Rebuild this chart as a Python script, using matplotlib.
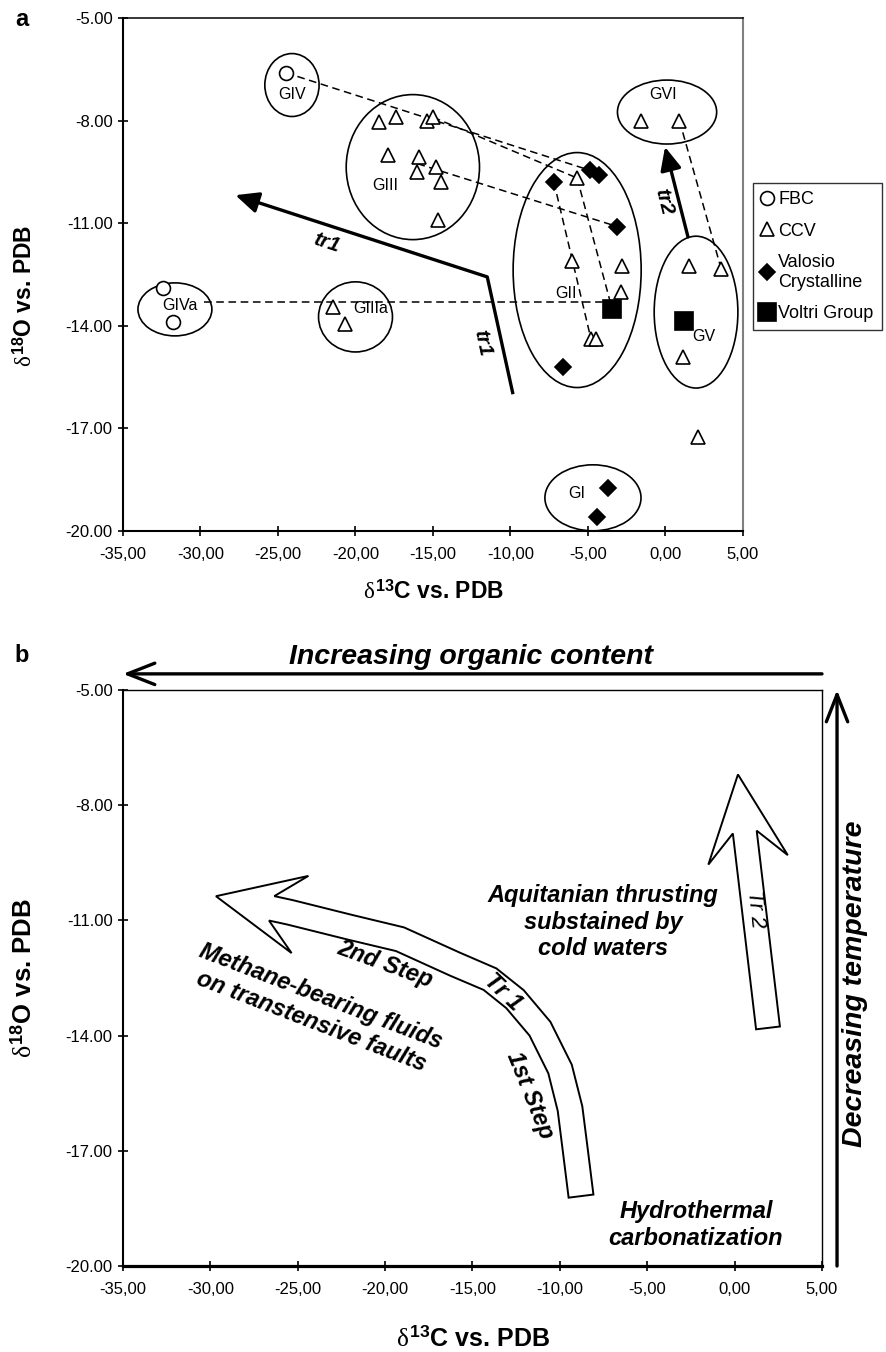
import numpy as np
import matplotlib
matplotlib.use("Agg")
import matplotlib.pyplot as plt
from matplotlib.patches import Ellipse, Polygon
from matplotlib.lines import Line2D

plt.rcParams["font.family"] = ["Liberation Sans", "DejaVu Sans"]
plt.rcParams["axes.unicode_minus"] = False
plt.rcParams["mathtext.fontset"] = "custom"
plt.rcParams["mathtext.rm"] = "Liberation Sans:bold"
plt.rcParams["mathtext.it"] = "Liberation Serif"
plt.rcParams["mathtext.bf"] = "Liberation Sans:bold"

# ---- data (panel a) ----
fbc_x = [-24.5, -32.4, -31.8]
fbc_y = [-6.6, -12.9, -13.9]

ccv_x = [-18.5, -17.4, -15.4, -15.0, -17.9, -15.9, -16.0, -14.8, -14.5, -14.7,
         -21.45, -20.7, -5.7, -6.0, -2.8, -2.9, -4.8, -4.5, -1.6, 0.9,
         1.5, 3.6, 1.1, 2.1]
ccv_y = [-8.04, -7.9, -8.0, -7.9, -9.0, -9.06, -9.5, -9.35, -9.8, -10.9,
         -13.45, -13.95, -9.68, -12.1, -12.25, -13.0, -14.4, -14.4, -8.0, -8.0,
         -12.25, -12.35, -14.9, -17.25]

val_x = [-7.2, -4.9, -4.3, -3.1, -6.6, -3.7, -4.4]
val_y = [-9.8, -9.45, -9.6, -11.1, -15.2, -18.75, -19.6]

vol_x = [-3.45, 1.2]
vol_y = [-13.5, -13.85]

group_names = ["GI", "GII", "GIII", "GIIIa", "GIV", "GIVa", "GV", "GVI"]
group_cx = [-4.68, -5.7, -16.3, -20.0, -24.1, -31.65, 1.97, 0.1]
group_cy = [-19.03, -12.37, -9.36, -13.74, -6.96, -13.52, -13.6, -7.75]
group_w = [6.2, 8.26, 8.6, 4.77, 3.5, 4.77, 5.4, 6.4]
group_h = [1.93, 6.87, 4.24, 2.05, 1.84, 1.55, 4.44, 1.87]
group_lx = [-5.7, -6.4, -18.1, -19.0, -24.1, -31.3, 2.5, -0.16]
group_ly = [-18.9, -13.05, -9.9, -13.5, -7.25, -13.4, -14.3, -7.25]

link_x = [[-24.5, -4.9], [-15.0, -5.7], [-16.0, -3.1], [-7.2, -4.8],
          [-5.7, -3.45], [0.9, 3.6], [-29.8, -3.45]]
link_y = [[-6.6, -9.45], [-7.9, -9.68], [-9.26, -11.1], [-9.8, -14.4],
          [-9.68, -13.5], [-8.0, -12.35], [-13.3, -13.3]]

tr1_x = [-9.84, -11.5, -27.75]
tr1_y = [-16.0, -12.57, -10.18]
tr2_x = [1.45, -0.03]
tr2_y = [-11.4, -8.77]

# ---- data (panel b) ----
tr1b_x = [-8.79, -9.13, -9.42, -9.99, -11.14, -12.57, -14.0, -16.0, -19.15,
          -22.0, -25.44, -29.68]
tr1b_y = [-18.18, -16.94, -15.90, -14.87, -13.82, -13.05, -12.53, -12.14,
          -11.49, -11.18, -10.79, -10.37]
tr2b_x = [1.91, 0.19]
tr2b_y = [-13.8, -7.2]

x_ticks = [-35, -30, -25, -20, -15, -10, -5, 0, 5]
y_ticks = [-5, -8, -11, -14, -17, -20]


def style_axes(ax, lw_left, lw_bottom, lw_top, lw_right, right_color):
    ax.set_xlim(-35, 5)
    ax.set_ylim(-20, -5)
    ax.set_xticks(x_ticks)
    ax.set_yticks(y_ticks)
    ax.set_xticklabels([f"{v:.2f}".replace(".", ",") for v in x_ticks])
    ax.set_yticklabels([f"{v:.2f}" for v in y_ticks])
    ax.tick_params(direction="inout", length=7, width=1.2, labelsize=12)
    ax.tick_params(axis="x", pad=8)
    ax.tick_params(axis="y", pad=4)
    ax.spines["left"].set_linewidth(lw_left)
    ax.spines["bottom"].set_linewidth(lw_bottom)
    ax.spines["top"].set_linewidth(lw_top)
    ax.spines["right"].set_linewidth(lw_right)
    ax.spines["right"].set_color(right_color)


def hollow_arrow(ax, xs, ys, width, head_len, head_w, overhang):
    # build the outline in pixel units so the shape is not distorted
    bb = ax.get_window_extent()
    sx = bb.width / 40.0
    sy = bb.height / 15.0
    P = np.column_stack([np.asarray(xs) * sx, np.asarray(ys) * sy])
    tip = P[-1]
    d = tip - P[-2]
    d = d / np.hypot(*d)
    base = tip - d * head_len
    shaft = np.vstack([P[:-1], base])
    seg = np.diff(shaft, axis=0)
    seg = seg / np.hypot(seg[:, 0], seg[:, 1])[:, None]
    nseg = np.column_stack([-seg[:, 1], seg[:, 0]])
    nrm = np.empty_like(shaft)
    nrm[0] = nseg[0]
    nrm[-1] = nseg[-1]
    mid = nseg[:-1] + nseg[1:]
    nrm[1:-1] = mid / np.hypot(mid[:, 0], mid[:, 1])[:, None]
    left = shaft + nrm * width / 2
    right = shaft - nrm * width / 2
    n_end = np.array([-d[1], d[0]])
    back = base - d * overhang
    poly = np.vstack([right, [back - n_end * head_w / 2], [tip],
                      [back + n_end * head_w / 2], left[::-1]])
    poly = poly / [sx, sy]
    ax.add_patch(Polygon(poly, closed=True, facecolor="white",
                         edgecolor="black", lw=1.4, zorder=3))


fig = plt.figure(figsize=(8.87, 13.52), dpi=100)
axa = fig.add_axes([123 / 887, 1 - 531 / 1352, 620 / 887, 513 / 1352])
axb = fig.add_axes([123 / 887, 1 - 1266 / 1352, 699 / 887, 576 / 1352])

# ---------------- panel a ----------------
style_axes(axa, 1.5, 1.5, 1.1, 1.5, "#7f7f7f")

for cx, cy, w, h in zip(group_cx, group_cy, group_w, group_h):
    axa.add_patch(Ellipse((cx, cy), w, h, fill=False, ec="black", lw=1.2, zorder=2))
for name, lx, ly in zip(group_names, group_lx, group_ly):
    axa.text(lx, ly, name, fontsize=11.5, ha="center", va="center", zorder=5)

for lx, ly in zip(link_x, link_y):
    axa.plot(lx, ly, ls=(0, (5, 3)), color="black", lw=1.1, zorder=3)

mk = dict(ls="none", mec="black", mew=1.2, zorder=4)
axa.plot(fbc_x, fbc_y, marker="o", ms=10, mfc="white", **mk)
axa.plot(ccv_x, ccv_y, marker="^", ms=10, mfc="white", **mk)
axa.plot(val_x, val_y, marker="D", ms=8, mfc="black", **mk)
axa.plot(vol_x, vol_y, marker="s", ms=13, mfc="black", **mk)

axa.plot(tr1_x[:2], tr1_y[:2], color="black", lw=2.4, solid_capstyle="butt",
         solid_joinstyle="miter", zorder=3)
axa.annotate("", xy=(tr1_x[2], tr1_y[2]), xytext=(tr1_x[1], tr1_y[1]),
             arrowprops=dict(arrowstyle="-|>,head_length=0.7,head_width=0.32",
                             mutation_scale=20, lw=2.4, color="black",
                             shrinkA=0, shrinkB=0), zorder=3)
axa.annotate("", xy=(tr2_x[1], tr2_y[1]), xytext=(tr2_x[0], tr2_y[0]),
             arrowprops=dict(arrowstyle="-|>,head_length=0.7,head_width=0.32",
                             mutation_scale=20, lw=2.4, color="black",
                             shrinkA=0, shrinkB=0), zorder=3)
tkw = dict(fontsize=15, fontweight="bold", style="italic", ha="center",
           va="center", rotation_mode="anchor")
axa.text(-21.84, -11.58, "tr1", rotation=-18, **tkw)
axa.text(-11.84, -14.5, "tr1", rotation=-78, **tkw)
axa.text(-0.10, -10.38, "tr2", rotation=-76, **tkw)

axa.set_xlabel(r"$\delta^{\mathrm{13}}$C vs. PDB", fontsize=16.5, fontweight="bold")
axa.set_ylabel(r"$\delta^{\mathrm{18}}$O vs. PDB", fontsize=16.5, fontweight="bold")
axa.xaxis.set_label_coords(0.5, -0.0955)
axa.yaxis.set_label_coords(-0.139, 0.458)

handles = [
    Line2D([], [], marker="o", ms=10, mfc="white", **mk),
    Line2D([], [], marker="^", ms=10, mfc="white", **mk),
    Line2D([], [], marker="D", ms=8, mfc="black", **mk),
    Line2D([], [], marker="s", ms=13, mfc="black", **mk),
]
labels = ["FBC", "CCV", "Valosio\nCrystalline", "Voltri Group"]
leg = axa.legend(handles, labels, loc="upper left",
                 bbox_to_anchor=(753 / 887, 1 - 183 / 1352),
                 bbox_transform=fig.transFigure, frameon=True, fancybox=False,
                 edgecolor="black", fontsize=13, handlelength=0.7,
                 handletextpad=0.25, labelspacing=0.8, borderpad=0.45,
                 borderaxespad=0)
leg.get_frame().set_linewidth(1.0)

# ---------------- panel b ----------------
style_axes(axb, 1.5, 2.3, 1.0, 1.0, "black")

hollow_arrow(axb, tr1b_x, tr1b_y, width=25, head_len=57, head_w=79, overhang=29)
hollow_arrow(axb, tr2b_x, tr2b_y, width=24, head_len=58, head_w=80, overhang=28)

bkw = dict(fontsize=17, fontweight="bold", style="italic", ha="center",
           va="center", rotation_mode="anchor", multialignment="center")
axb.text(-7.53, -11.05, "Aquitanian thrusting\nsubstained by\ncold waters", **bkw)
axb.text(-23.96, -13.31, "Methane-bearing fluids\non transtensive faults",
         rotation=-21, **bkw)
axb.text(-20.0, -12.14, "2nd Step", rotation=-20, **bkw)
axb.text(-13.25, -12.86, "Tr 1", rotation=-44, **bkw)
axb.text(-11.71, -15.56, "1st Step", rotation=-68, **bkw)
axb.text(1.17, -10.71, "Tr 2", rotation=-84, fontsize=16, style="italic",
         fontweight="medium", ha="center", va="center", rotation_mode="anchor")
axb.text(-2.21, -18.94, "Hydrothermal\ncarbonatization", **bkw)

axb.annotate("", xy=(-35, -4.58), xytext=(5, -4.58), annotation_clip=False,
             arrowprops=dict(arrowstyle="->,head_length=1.4,head_width=0.55",
                             mutation_scale=14, lw=2.4, color="black",
                             shrinkA=0, shrinkB=0))
axb.text(-15.08, -4.14, "Increasing organic content", fontsize=20.5,
         fontweight="bold", style="italic", ha="center", va="center")
axb.annotate("", xy=(5.86, -5.0), xytext=(5.86, -20.0), annotation_clip=False,
             arrowprops=dict(arrowstyle="->,head_length=1.4,head_width=0.55",
                             mutation_scale=14, lw=2.4, color="black",
                             shrinkA=0, shrinkB=0))
axb.text(6.89, -12.66, "Decreasing temperature", fontsize=20.5, rotation=90,
         fontweight="bold", style="italic", ha="center", va="center")

axb.set_xlabel(r"$\delta^{\mathrm{13}}$C vs. PDB", fontsize=18, fontweight="bold")
axb.set_ylabel(r"$\delta^{\mathrm{18}}$O vs. PDB", fontsize=18.5, fontweight="bold")
axb.xaxis.set_label_coords(0.5, -0.104)
axb.yaxis.set_label_coords(-0.123, 0.5)

fig.text(22 / 887, 1 - 20 / 1352, "a", fontsize=17, fontweight="bold",
         ha="center", va="center")
fig.text(22 / 887, 1 - 656 / 1352, "b", fontsize=17, fontweight="bold",
         ha="center", va="center")

fig.savefig("out.png", dpi=100)
